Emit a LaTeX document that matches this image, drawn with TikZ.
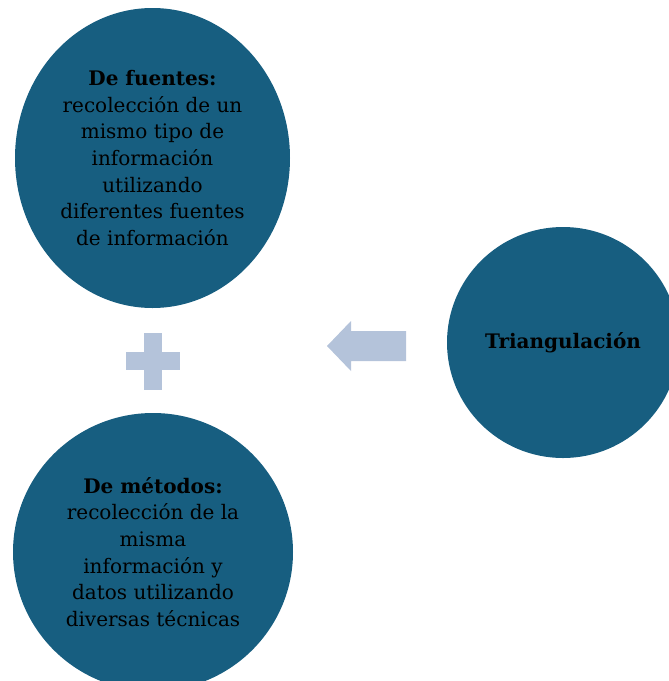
\documentclass[tikz,border=0pt]{standalone}
\usepackage{fontspec}
\setmainfont{DejaVu Serif}
\usetikzlibrary{shapes.geometric}
\definecolor{circblue}{HTML}{175E80}
\definecolor{signgray}{HTML}{B4C3DA}

\begin{document}
\begin{tikzpicture}[x=1pt,y=-1pt,
  bubble/.style={draw=none, fill=circblue, ellipse, inner sep=0pt, align=center,
    font=\fontsize{20}{26.6}\selectfont, text=black}]
\useasboundingbox (0,0) rectangle (669,681);

\node (fuentes) [bubble, minimum width=275pt, minimum height=300pt] at (152.5,158)
  {\textbf{De fuentes:}\\recolección de un\\mismo tipo de\\información\\utilizando\\diferentes fuentes\\de información};
\node (metodos) [bubble, minimum width=280pt, minimum height=278pt] at (153,552)
  {\textbf{De métodos:}\\recolección de la\\misma\\información y\\datos utilizando\\diversas técnicas};
\node (triang) [bubble, minimum width=232pt, minimum height=231pt] at (563,342.5)
  {\textbf{Triangulación}};

% plus sign
\fill[signgray] (144,333) rectangle (162,390);
\fill[signgray] (126,352) rectangle (180,370);

% block arrow
\fill[signgray] (406,331) -- (351,331) -- (351,321) -- (327,346) -- (351,371)
  -- (351,361) -- (406,361) -- cycle;
\end{tikzpicture}
\end{document}
